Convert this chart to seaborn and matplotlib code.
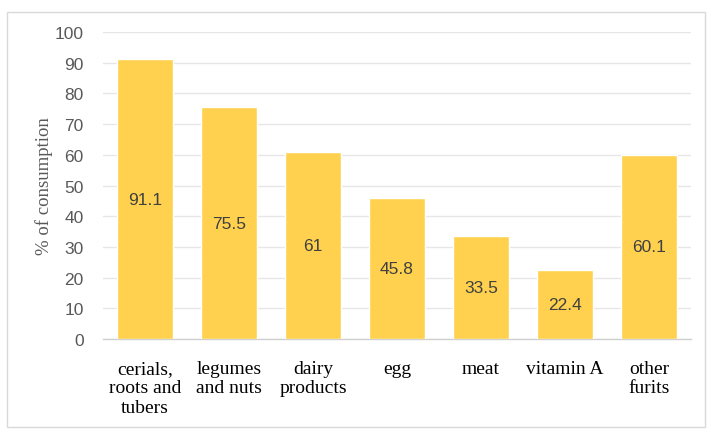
import matplotlib
matplotlib.use("Agg")
import matplotlib.pyplot as plt
from matplotlib.patches import Rectangle
import seaborn as sns
import pandas as pd

categories = ["cerials,\nroots and\ntubers", "legumes\nand nuts", "dairy\nproducts",
              "egg", "meat", "vitamin A", "other\nfurits"]
values = [91.1, 75.5, 61, 45.8, 33.5, 22.4, 60.1]
value_labels = ["91.1", "75.5", "61", "45.8", "33.5", "22.4", "60.1"]
y_ticks = [0, 10, 20, 30, 40, 50, 60, 70, 80, 90, 100]

df = pd.DataFrame({"food": categories, "pct": values})

sns.set_theme(style="white")
plt.rcParams["font.family"] = ["Liberation Sans", "DejaVu Sans"]

fig = plt.figure(figsize=(7.12, 4.35), dpi=100)
ax = fig.add_axes([0.1447, 0.2184, 0.8258, 0.7056])

sns.barplot(data=df, x="food", y="pct", color="#FFD14F", saturation=1,
            width=0.667, ax=ax, zorder=3)

ax.set_ylim(0, 100)
ax.set_xlim(-0.5, len(categories) - 0.5)
ax.set_yticks(y_ticks)
ax.yaxis.grid(True, color="#e6e6e6", linewidth=1.0, zorder=0)
ax.set_axisbelow(True)
for s in ["top", "right", "left"]:
    ax.spines[s].set_visible(False)
ax.spines["bottom"].set_color("#d0d0d0")
ax.spines["bottom"].set_linewidth(1.0)

ax.tick_params(axis="y", length=0, pad=14, labelsize=12.5, labelcolor="#595959")
ax.tick_params(axis="x", length=0, pad=15)
for lab in ax.get_xticklabels():
    lab.set_fontfamily("Liberation Serif")
    lab.set_fontsize(14)
    lab.set_color("#000000")
    lab.set_linespacing(1.18)
    lab.set_verticalalignment("top")

ax.set_xlabel("")
ax.set_ylabel("% of consumption", fontfamily="Liberation Serif", fontsize=13.5,
              color="#595959")
ax.yaxis.set_label_coords(-0.085, 0.5)

for i, (v, t) in enumerate(zip(values, value_labels)):
    ax.text(i, v / 2, t, ha="center", va="center", fontsize=12.5, color="#404040", zorder=4)

fig.patches.append(Rectangle((7 / 712, 1 - 428 / 435), 698 / 712, 415 / 435,
                             transform=fig.transFigure, fill=False,
                             edgecolor="#d9d9d9", linewidth=1.0))

fig.savefig("out.png", dpi=100, facecolor="white")
